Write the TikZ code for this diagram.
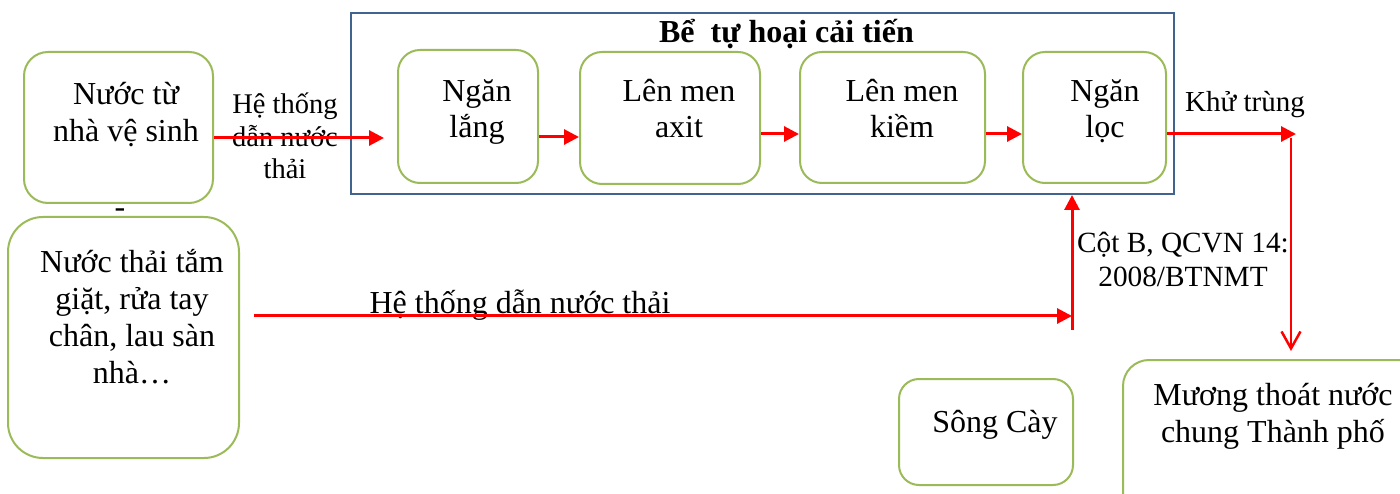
\documentclass[tikz,border=0pt]{standalone}
\usepackage{fontspec}
\setmainfont{Liberation Serif}
\usetikzlibrary{arrows.meta,calc}
\definecolor{boxgreen}{HTML}{9BBB59}
\definecolor{frameblue}{HTML}{41648F}
\definecolor{flowred}{HTML}{FF0000}
% centred lines with a fixed baseline distance; the box's baseline is that of the first line
\newcommand\stack[2][36pt]{\vtop{\baselineskip=#1\relax\lineskiplimit=-1000pt\lineskip=0pt\halign{\hfil##\hfil\cr#2\crcr}}}
\begin{document}
\begin{tikzpicture}[x=1pt,y=-1pt,
  gbox/.style={draw=boxgreen, line width=2pt, rounded corners=22pt, inner sep=0pt},
  frame/.style={draw=frameblue, line width=2pt, inner sep=0pt},
  txt/.style={inner sep=0pt, anchor=base, font=\fontsize{32}{37}\selectfont},
  flow/.style={draw=flowred, line width=3pt, -{Triangle[length=15pt,width=15pt]}},
  openflow/.style={draw=flowred, line width=2.5pt, -{Straight Barb[length=17pt,width=19pt]}}]
\useasboundingbox (0,0) rectangle (1400,494);

% sources
\node[gbox, minimum width=189pt, minimum height=151pt, rounded corners=24pt] (A) at (118.5,127.5) {};
\node[txt] (Atext) at (126,105) {\stack[37pt]{Nước từ\cr nhà vệ sinh}};
\node[txt] (dash) at (120,218) {-};
\node[gbox, minimum width=231pt, minimum height=241pt, rounded corners=35pt] (B) at (123.5,337.5) {};
\node[txt] (Btext) at (132,273) {\stack[36.7pt]{Nước thải tắm\cr giặt, rửa tay\cr chân, lau sàn\cr nhà…}};

% septic tank
\node[frame, minimum width=823pt, minimum height=181pt] (tank) at (762.5,103.5) {};
\node[txt, font=\fontsize{32}{37}\selectfont\bfseries] (title) at (786.5,43) {Bể\ \ tự hoại cải tiến};
\node[gbox, minimum width=140pt, minimum height=133pt] (L1) at (468,116.5) {};
\node[gbox, minimum width=180pt, minimum height=132pt] (L2) at (670,118) {};
\node[gbox, minimum width=185pt, minimum height=131pt] (L3) at (892.5,117.5) {};
\node[gbox, minimum width=143pt, minimum height=131pt] (L4) at (1094.5,117.5) {};
\node[txt] (L1text) at (477,102) {\stack[36pt]{Ngăn\cr lắng}};
\node[txt] (L2text) at (679,102) {\stack[36pt]{Lên men\cr axit}};
\node[txt] (L3text) at (902,102) {\stack[36pt]{Lên men\cr kiềm}};
\node[txt] (L4text) at (1105,102) {\stack[36pt]{Ngăn\cr lọc}};

% receivers
\node[gbox, minimum width=174pt, minimum height=106pt, rounded corners=20pt] (river) at (986,432) {};
\node[txt] (rivertext) at (995,432) {Sông Cày};
\node[gbox, minimum width=302pt, minimum height=160pt, rounded corners=26pt] (ditch) at (1274,440) {};
\node[txt] (ditchtext) at (1273,405) {\stack[37pt]{Mương thoát nước\cr chung Thành phố}};

% labels
\node[txt, font=\fontsize{28.5}{32}\selectfont] (pipeA) at (285,114) {\stack[32.5pt]{Hệ thống\cr dẫn nước\cr thải}};
\node[txt] (pipeB) at (520,313) {Hệ thống dẫn nước thải};
\node[txt, font=\fontsize{29}{34}\selectfont] (disinf) at (1245,112) {Khử trùng};
\node[txt, font=\fontsize{29.3}{34}\selectfont] (norm) at (1183,253) {\stack[34pt]{Cột B, QCVN 14:\cr 2008/BTNMT}};

% helper rows and free ends
\coordinate (r0) at (0,138);
\coordinate (r1) at (0,137);
\coordinate (r2) at (0,134);
\coordinate (inTip) at (384,138);
\coordinate (outTip) at (1296,134);
\coordinate (downTop) at (1291,138);
\coordinate (pipeStart) at (254,316);
\coordinate (joint) at (1072,316);
\coordinate (riseBottom) at (1072,330);

% flows
\draw[flow] (A.east |- r0) -- (inTip);
\draw[flow] (L1.east |- r1) -- (L2.west |- r1);
\draw[flow] (L2.east |- r2) -- (L3.west |- r2);
\draw[flow] (L3.east |- r2) -- (L4.west |- r2);
\draw[flow] (L4.east |- r2) -- (outTip);
\draw[openflow, shorten >=8pt] (downTop) -- (ditch.north -| downTop);
\draw[flow] (pipeStart) -- (joint);
\draw[flow] (riseBottom) -- (tank.south -| riseBottom);
\end{tikzpicture}
\end{document}
